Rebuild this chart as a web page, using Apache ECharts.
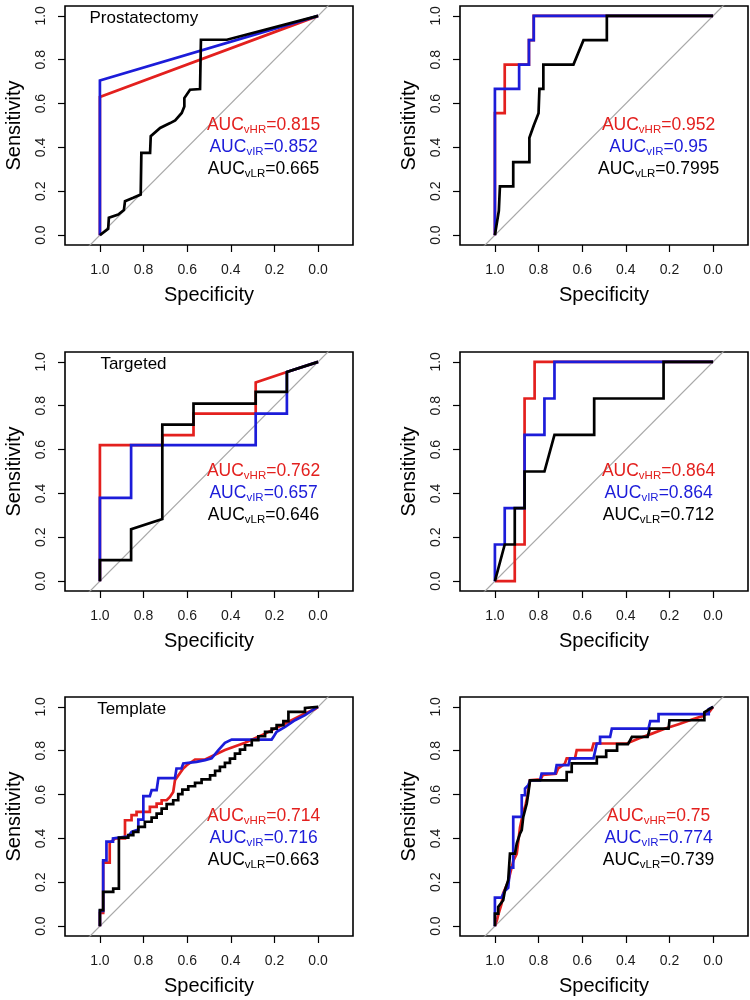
<!DOCTYPE html>
<html>
<head>
<meta charset="utf-8">
<title>ROC curves</title>
<script src="https://cdn.jsdelivr.net/npm/echarts@6/dist/echarts.min.js"></script>
<style>
  html, body { margin: 0; padding: 0; background: #fff; }
  #main { width: 750px; height: 1000px; }
</style>
</head>
<body>
<div id="main"></div>
<script>
// tick labels shared by both axes
var ticks = [0, 0.2, 0.4, 0.6, 0.8, 1.0];
var panelTitles = ['Prostatectomy', '', 'Targeted', '', 'Template', ''];
var aucHR = ['0.815', '0.952', '0.762', '0.864', '0.714', '0.75'];
var aucIR = ['0.852', '0.95', '0.657', '0.864', '0.716', '0.774'];
var aucLR = ['0.665', '0.7995', '0.646', '0.712', '0.663', '0.739'];
var diagonal = [[1.1, -0.1], [-0.1, 1.1]];

// [specificity, sensitivity]
var p1HR = [[1, 0], [1, 0.63], [0, 1]];
var p1IR = [[1, 0], [1, 0.705], [0, 1]];
var p1LR = [[1, 0], [0.962, 0.029], [0.959, 0.079], [0.916, 0.094], [0.89, 0.114], [0.885, 0.155], [0.847, 0.17], [0.813, 0.185], [0.81, 0.375], [0.77, 0.375], [0.767, 0.451], [0.724, 0.489], [0.678, 0.511], [0.655, 0.523], [0.625, 0.557], [0.613, 0.587], [0.613, 0.625], [0.587, 0.663], [0.541, 0.666], [0.537, 0.891], [0.418, 0.891], [0, 1]];

var p2HR = [[1, 0], [1, 0.556], [0.955, 0.556], [0.955, 0.778], [0.889, 0.778], [0.844, 0.778], [0.844, 0.889], [0.822, 0.889], [0.822, 1], [0, 1]];
var p2IR = [[1, 0], [1, 0.667], [0.889, 0.667], [0.889, 0.778], [0.844, 0.778], [0.844, 0.889], [0.822, 0.889], [0.822, 1], [0, 1]];
var p2LR = [[1, 0], [0.982, 0.111], [0.977, 0.222], [0.916, 0.222], [0.916, 0.333], [0.842, 0.333], [0.842, 0.444], [0.822, 0.5], [0.8, 0.556], [0.796, 0.667], [0.778, 0.667], [0.778, 0.778], [0.64, 0.778], [0.594, 0.889], [0.487, 0.889], [0.487, 1], [0, 1]];

var p3HR = [[1, 0], [1, 0.62], [0.714, 0.62], [0.714, 0.666], [0.571, 0.666], [0.571, 0.764], [0.286, 0.764], [0.286, 0.906], [0.143, 0.954], [0, 1]];
var p3IR = [[1, 0], [1, 0.38], [0.857, 0.38], [0.857, 0.62], [0.286, 0.62], [0.286, 0.764], [0.143, 0.764], [0.143, 0.954], [0, 1]];
var p3LR = [[1, 0], [1, 0.096], [0.857, 0.096], [0.857, 0.237], [0.714, 0.283], [0.714, 0.714], [0.571, 0.714], [0.571, 0.81], [0.286, 0.81], [0.286, 0.863], [0.143, 0.863], [0.143, 0.954], [0, 1]];

var p4HR = [[1, 0], [0.909, 0], [0.909, 0.167], [0.864, 0.167], [0.864, 0.833], [0.818, 0.833], [0.818, 1], [0, 1]];
var p4IR = [[1, 0], [1, 0.167], [0.955, 0.167], [0.955, 0.333], [0.864, 0.333], [0.864, 0.667], [0.773, 0.667], [0.773, 0.833], [0.727, 0.833], [0.727, 1], [0, 1]];
var p4LR = [[1, 0], [0.955, 0.167], [0.909, 0.167], [0.909, 0.333], [0.864, 0.333], [0.864, 0.5], [0.773, 0.5], [0.727, 0.667], [0.545, 0.667], [0.545, 0.833], [0.227, 0.833], [0.227, 1], [0, 1]];

var p5HR = [[1, 0], [1, 0.06], [0.985, 0.06], [0.985, 0.29], [0.955, 0.29], [0.955, 0.38], [0.93, 0.4], [0.885, 0.4], [0.885, 0.483], [0.855, 0.483], [0.855, 0.506], [0.832, 0.506], [0.832, 0.521], [0.771, 0.521], [0.771, 0.544], [0.74, 0.544], [0.74, 0.559], [0.717, 0.559], [0.717, 0.574], [0.694, 0.574], [0.679, 0.589], [0.664, 0.612], [0.656, 0.665], [0.618, 0.719], [0.602, 0.734], [0.564, 0.76], [0.518, 0.76], [0.427, 0.803], [0.335, 0.836], [0.243, 0.878], [0.151, 0.924], [0.06, 0.97], [0.014, 0.99], [0, 1]];
var p5IR = [[1, 0], [1, 0.07], [0.985, 0.07], [0.985, 0.3], [0.97, 0.3], [0.97, 0.385], [0.94, 0.385], [0.94, 0.4], [0.87, 0.41], [0.855, 0.43], [0.824, 0.44], [0.824, 0.486], [0.801, 0.486], [0.801, 0.593], [0.771, 0.593], [0.763, 0.62], [0.74, 0.62], [0.732, 0.675], [0.656, 0.675], [0.649, 0.719], [0.626, 0.719], [0.618, 0.742], [0.557, 0.749], [0.518, 0.757], [0.488, 0.765], [0.457, 0.803], [0.427, 0.836], [0.396, 0.851], [0.213, 0.851], [0.205, 0.863], [0.19, 0.886], [0.151, 0.909], [0.106, 0.939], [0.06, 0.962], [0.014, 0.993], [0, 1]];
var p5LR = [[1, 0], [1, 0.073], [0.985, 0.073], [0.985, 0.156], [0.939, 0.156], [0.939, 0.171], [0.913, 0.171], [0.913, 0.404], [0.87, 0.404], [0.87, 0.415], [0.847, 0.415], [0.847, 0.43], [0.824, 0.43], [0.824, 0.453], [0.794, 0.453], [0.794, 0.476], [0.763, 0.476], [0.763, 0.495], [0.74, 0.495], [0.74, 0.513], [0.717, 0.513], [0.717, 0.536], [0.694, 0.536], [0.694, 0.556], [0.664, 0.556], [0.664, 0.574], [0.641, 0.574], [0.641, 0.602], [0.622, 0.602], [0.622, 0.623], [0.595, 0.623], [0.595, 0.638], [0.564, 0.638], [0.564, 0.653], [0.534, 0.653], [0.534, 0.669], [0.495, 0.669], [0.495, 0.688], [0.472, 0.688], [0.472, 0.708], [0.45, 0.708], [0.45, 0.726], [0.427, 0.726], [0.427, 0.745], [0.404, 0.745], [0.404, 0.764], [0.381, 0.764], [0.381, 0.787], [0.358, 0.787], [0.358, 0.805], [0.335, 0.805], [0.335, 0.825], [0.304, 0.825], [0.304, 0.848], [0.274, 0.848], [0.274, 0.866], [0.243, 0.866], [0.243, 0.886], [0.213, 0.886], [0.213, 0.901], [0.19, 0.901], [0.19, 0.917], [0.159, 0.917], [0.159, 0.935], [0.136, 0.935], [0.136, 0.977], [0.06, 0.977], [0.06, 0.995], [0, 1]];

var p6HR = [[1, 0], [0.99, 0.03], [0.985, 0.05], [0.97, 0.1], [0.962, 0.15], [0.94, 0.2], [0.93, 0.24], [0.915, 0.3], [0.9, 0.33], [0.885, 0.45], [0.87, 0.52], [0.86, 0.55], [0.85, 0.6], [0.84, 0.665], [0.79, 0.67], [0.78, 0.69], [0.72, 0.695], [0.71, 0.72], [0.68, 0.74], [0.671, 0.765], [0.633, 0.765], [0.625, 0.803], [0.556, 0.803], [0.548, 0.833], [0.395, 0.833], [0.341, 0.856], [0.28, 0.878], [0.219, 0.901], [0.158, 0.921], [0.097, 0.942], [0.051, 0.957], [0.02, 0.973], [0, 1]];
var p6IR = [[1, 0], [1, 0.13], [0.97, 0.13], [0.955, 0.16], [0.939, 0.175], [0.931, 0.267], [0.916, 0.267], [0.916, 0.498], [0.877, 0.498], [0.877, 0.597], [0.862, 0.597], [0.862, 0.628], [0.847, 0.643], [0.839, 0.665], [0.793, 0.665], [0.786, 0.696], [0.724, 0.696], [0.717, 0.734], [0.663, 0.734], [0.656, 0.765], [0.548, 0.765], [0.533, 0.833], [0.518, 0.833], [0.518, 0.863], [0.472, 0.863], [0.464, 0.901], [0.296, 0.901], [0.288, 0.935], [0.25, 0.935], [0.25, 0.967], [0.02, 0.967], [0.02, 0.99], [0, 1]];
var p6LR = [[1, 0], [1, 0.057], [0.985, 0.057], [0.985, 0.088], [0.962, 0.118], [0.954, 0.164], [0.939, 0.21], [0.931, 0.331], [0.908, 0.331], [0.9, 0.377], [0.885, 0.422], [0.877, 0.438], [0.87, 0.498], [0.854, 0.559], [0.847, 0.605], [0.839, 0.665], [0.671, 0.665], [0.671, 0.703], [0.648, 0.703], [0.648, 0.742], [0.533, 0.742], [0.533, 0.772], [0.49, 0.772], [0.49, 0.8], [0.44, 0.8], [0.44, 0.83], [0.39, 0.83], [0.372, 0.863], [0.3, 0.863], [0.29, 0.901], [0.204, 0.901], [0.2, 0.939], [0.04, 0.939], [0.04, 0.975], [0, 1]];

var curvesHR = [p1HR, p2HR, p3HR, p4HR, p5HR, p6HR];
var curvesIR = [p1IR, p2IR, p3IR, p4IR, p5IR, p6IR];
var curvesLR = [p1LR, p2LR, p3LR, p4LR, p5LR, p6LR];

var FONT = '"Liberation Sans", Arial, Helvetica, sans-serif';
var RED = '#e3201e', BLUE = '#1c1cd9', BLACK = '#000';
var titleX = [1.05, 0, 1.0, 0, 1.015, 0];

function aucLabel (sub, val, color) {
  return {
    show: true,
    position: 'inside',
    opacity: 1,
    formatter: '{m|AUC}{s|' + sub + '}{m|=' + val + '}',
    rich: {
      m: { fontSize: 17.5, color: color, fontFamily: FONT, lineHeight: 20 },
      s: { fontSize: 11.5, color: color, fontFamily: FONT, lineHeight: 14, verticalAlign: 'bottom' }
    }
  }
}

function textPoint (i, x, y, label) {
  return {
    type: 'scatter', xAxisIndex: i, yAxisIndex: i, silent: true,
    symbolSize: 1, itemStyle: { color: 'rgba(0,0,0,0)', opacity: 1 },
    data: [[x, y]], label: label, z: 10
  }
}

function curve (i, data, color) {
  return {
    type: 'line', xAxisIndex: i, yAxisIndex: i, silent: true,
    data: data, symbol: 'none',
    lineStyle: { color: color, width: 2.7, join: 'miter' }
  }
}

var lefts = [65, 460];
var tops = [6, 352, 697];
var grids = [], xAxes = [], yAxes = [], series = [];

for (var i = 0; i < 6; i++) {
  grids.push({
    left: lefts[i % 2], top: tops[Math.floor(i / 2)], width: 288, height: 239,
    show: true, borderColor: '#000', borderWidth: 1.6, containLabel: false, outerBoundsMode: 'none'
  });
  xAxes.push({
    gridIndex: i, type: 'value', min: -0.16, max: 1.16, inverse: true,
    axisLine: { show: false, onZero: false },
    splitLine: { show: false },
    axisTick: { show: true, inside: false, length: 7, customValues: ticks, lineStyle: { color: '#000', width: 1.2 } },
    axisLabel: {
      customValues: ticks, margin: 18, fontSize: 14, color: '#1a1a1a', fontFamily: FONT,
      formatter: function (v) { return v.toFixed(1) }
    },
    name: 'Specificity', nameLocation: 'middle', nameGap: 40,
    nameTextStyle: { fontSize: 20, color: '#000', fontFamily: FONT }
  });
  yAxes.push({
    gridIndex: i, type: 'value', min: -0.045, max: 1.045,
    axisLine: { show: false, onZero: false },
    splitLine: { show: false },
    axisTick: { show: true, inside: false, length: 7, customValues: ticks, lineStyle: { color: '#000', width: 1.2 } },
    axisLabel: {
      customValues: ticks, rotate: 90, margin: 17, fontSize: 14, color: '#1a1a1a', fontFamily: FONT,
      formatter: function (v) { return v.toFixed(1) }
    },
    name: 'Sensitivity', nameLocation: 'middle', nameGap: 41,
    nameTextStyle: { fontSize: 20, color: '#000', fontFamily: FONT }
  });

  series.push({
    type: 'line', xAxisIndex: i, yAxisIndex: i, silent: true, data: diagonal,
    symbol: 'none', clip: true, lineStyle: { color: '#a8a8a8', width: 1.2 }
  });
  series.push(curve(i, curvesHR[i], RED));
  series.push(curve(i, curvesIR[i], BLUE));
  series.push(curve(i, curvesLR[i], BLACK));

  series.push(textPoint(i, 0.25, 0.5, aucLabel('vHR', aucHR[i], RED)));
  series.push(textPoint(i, 0.25, 0.4, aucLabel('vIR', aucIR[i], BLUE)));
  series.push(textPoint(i, 0.25, 0.3, aucLabel('vLR', aucLR[i], BLACK)));

  if (panelTitles[i]) {
    series.push(textPoint(i, titleX[i], 0.99, {
      show: true, position: 'right', distance: 0, opacity: 1,
      formatter: panelTitles[i], fontSize: 17, color: '#000', fontFamily: FONT
    }));
  }
}

var chart = echarts.init(document.getElementById('main'));
chart.setOption({
  animation: false,
  backgroundColor: '#fff',
  grid: grids,
  xAxis: xAxes,
  yAxis: yAxes,
  series: series
});
</script>
</body>
</html>
